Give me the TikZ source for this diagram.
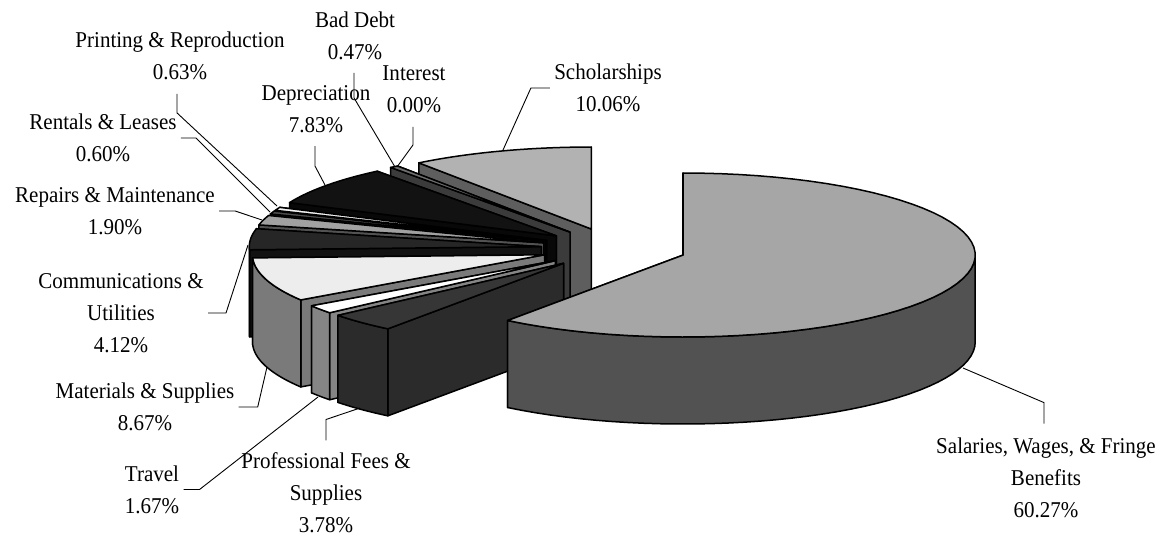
\documentclass[tikz,border=0pt]{standalone}
\usepackage{fontspec}
\setmainfont{Liberation Serif}[FakeStretch=0.93]
\def\pcx{614}\def\pcy{248.5}
\def\pra{292}\def\prb{82}\def\pdepth{87}
\tikzstyle{face}=[draw=black,line width=0.75pt,line join=round]
\tikzstyle{lbl}=[align=center,inner sep=2pt,font=\fontsize{11.3}{16}\selectfont]
\tikzstyle{leader}=[draw=black,line width=0.45pt]
% one exploded slice: start angle, end angle, top colour, side colour
\newcommand{\pieslice}[4]{%
  \pgfmathsetmacro{\pmid}{(#1+#2)/2}%
  \pgfmathsetmacro{\scx}{\pcx+0.25*\pra*cos(\pmid)}%
  \pgfmathsetmacro{\scy}{\pcy-0.25*\prb*sin(\pmid)}%
  \pgfmathsetmacro{\pfa}{max(#1,180)}%
  \pgfmathsetmacro{\pfb}{min(#2,360)}%
  \foreach \ang in {#1,#2}
    \path[face,fill=#4] (\scx,\scy) -- ({\scx+\pra*cos(\ang)},{\scy-\prb*sin(\ang)})
      -- ({\scx+\pra*cos(\ang)},{\scy-\prb*sin(\ang)+\pdepth}) -- (\scx,{\scy+\pdepth}) -- cycle;
  \ifdim\pfa pt<\pfb pt
    \path[face,fill=#4] plot[domain=\pfa:\pfb,samples=40] ({\scx+\pra*cos(\x)},{\scy-\prb*sin(\x)})
      -- plot[domain=\pfb:\pfa,samples=40] ({\scx+\pra*cos(\x)},{\scy-\prb*sin(\x)+\pdepth}) -- cycle;
  \fi
  \path[face,fill=#3] (\scx,\scy) -- plot[domain=#1:#2,samples=60] ({\scx+\pra*cos(\x)},{\scy-\prb*sin(\x)}) -- cycle;
}
\begin{document}
\begin{tikzpicture}[x=0.5pt,y=-0.5pt]
  \useasboundingbox (0,0) rectangle (1173,537);

  % Slices from the back to the front
  \pieslice{90}{126.216}{black!30}{black!63}        % scholarships
  \pieslice{126.216}{127.908}{black!57}{black!77}   % bad debt
  \pieslice{127.908}{156.096}{black!93}{black!97}   % depreciation
  \pieslice{156.096}{158.364}{black!5}{black!50}    % printing
  \pieslice{158.364}{160.524}{black!70}{black!85}   % rentals
  \pieslice{160.524}{167.364}{black!37}{black!68}   % repairs
  \pieslice{167.364}{182.196}{black!85}{black!93}   % communications
  \pieslice{182.196}{213.408}{black!7}{black!52}    % materials
  \pieslice{213.408}{219.42}{white}{black!48}       % travel
  \pieslice{219.42}{233.028}{black!79}{black!83}    % professional fees
  \pieslice{233.028}{450}{black!35}{black!68}       % salaries

  % Labels
  \node[lbl] (printing) at (180,55.5) {Printing \& Reproduction\\0.63\%};
  \node[lbl] (baddebt) at (355,35.5) {Bad Debt\\0.47\%};
  \node[lbl] (interest) at (414,89) {Interest\\0.00\%};
  \node[lbl] (deprec) at (316,109) {Depreciation\\7.83\%};
  \node[lbl] (scholar) at (608,88) {Scholarships\\10.06\%};
  \node[lbl] (rentals) at (103,138) {Rentals \& Leases\\0.60\%};
  \node[lbl] (repairs) at (115,211) {Repairs \& Maintenance\\1.90\%};
  \node[lbl] (comm) at (121,313) {Communications \&\\Utilities\\4.12\%};
  \node[lbl] (materials) at (145,407) {Materials \& Supplies\\8.67\%};
  \node[lbl] (travel) at (152,489.5) {Travel\\1.67\%};
  \node[lbl] (prof) at (326,493) {Professional Fees \&\\Supplies\\3.78\%};
  \node[lbl] (salaries) at (1046,478) {Salaries, Wages, \& Fringe\\Benefits\\60.27\%};

  % Where the leaders touch the slices
  \coordinate (printing-tip) at (277,206);
  \coordinate (baddebt-tip) at (395,167);
  \coordinate (interest-tip) at (397,167);
  \coordinate (deprec-tip) at (325,185);
  \coordinate (scholar-tip) at (503,150);
  \coordinate (rentals-tip) at (270,212);
  \coordinate (repairs-tip) at (262,220);
  \coordinate (comm-tip) at (248,245);
  \coordinate (materials-tip) at (267,367);
  \coordinate (travel-tip) at (318,397);
  \coordinate (prof-tip) at (360,408);
  \coordinate (salaries-tip) at (963,368);

  \draw[leader] ([xshift=-1.5pt,yshift=-5pt]printing.south) -- ++(0,19) -- (printing-tip);
  \draw[leader] ([xshift=-0.5pt,yshift=-4.5pt]baddebt.south) -- ++(0,25) -- (baddebt-tip);
  \draw[leader] ([xshift=-0.5pt,yshift=-5pt]interest.south) -- ++(0,18) -- (interest-tip);
  \draw[leader] ([xshift=-0.5pt,yshift=-4.5pt]deprec.south) -- ++(0,20) -- (deprec-tip);
  \draw[leader] (scholar.west) -- ++(-19,0) -- (scholar-tip);
  \draw[leader] (rentals.east) -- ++(15,0) -- (rentals-tip);
  \draw[leader] (repairs.east) -- ++(16,0) -- (repairs-tip);
  \draw[leader] (comm.east) -- ++(18,0) -- (comm-tip);
  \draw[leader] (materials.east) -- ++(19,0) -- (materials-tip);
  \draw[leader] (travel.east) -- ++(16,0) -- (travel-tip);
  \draw[leader] ([yshift=4pt]prof.north) -- ++(0,-21) -- (prof-tip);
  \draw[leader] ([xshift=-1pt,yshift=5pt]salaries.north) -- ++(0,-21) -- (salaries-tip);
\end{tikzpicture}
\end{document}
